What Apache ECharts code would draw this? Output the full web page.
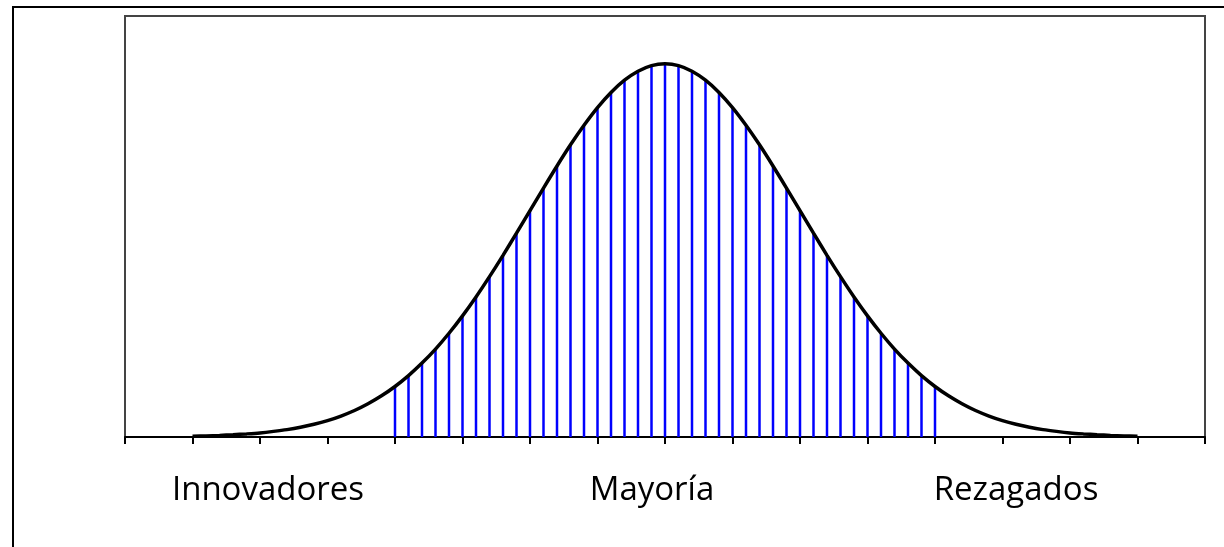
<!DOCTYPE html>
<html>
<head>
<meta charset="utf-8">
<script src="https://cdn.jsdelivr.net/npm/echarts@6/dist/echarts.min.js"></script>
<style>
    html, body { margin: 0; padding: 0; background: #fff; }
    #chart { width: 1224px; height: 547px; }
</style>
</head>
<body>
<div id="chart"></div>
<script>
// curva normal (x en desviaciones, altura de la densidad)
var curveX = [-3.5, -3.4, -3.3, -3.2, -3.1, -3.0, -2.9, -2.8, -2.7, -2.6, -2.5, -2.4, -2.3, -2.2, -2.1,
    -2.0, -1.9, -1.8, -1.7, -1.6, -1.5, -1.4, -1.3, -1.2, -1.1, -1.0, -0.9, -0.8, -0.7, -0.6, -0.5,
    -0.4, -0.3, -0.2, -0.1, 0.0, 0.1, 0.2, 0.3, 0.4, 0.5, 0.6, 0.7, 0.8, 0.9, 1.0, 1.1, 1.2, 1.3,
    1.4, 1.5, 1.6, 1.7, 1.8, 1.9, 2.0, 2.1, 2.2, 2.3, 2.4, 2.5, 2.6, 2.7, 2.8, 2.9, 3.0, 3.1, 3.2,
    3.3, 3.4, 3.5];
var curveY = [0.0009, 0.0012, 0.0017, 0.0024, 0.0033, 0.0044, 0.0060, 0.0079, 0.0104, 0.0136, 0.0175,
    0.0224, 0.0283, 0.0355, 0.0440, 0.0540, 0.0656, 0.0790, 0.0940, 0.1109, 0.1295, 0.1497, 0.1714,
    0.1942, 0.2179, 0.2420, 0.2661, 0.2897, 0.3123, 0.3332, 0.3521, 0.3683, 0.3814, 0.3910, 0.3970,
    0.3989, 0.3970, 0.3910, 0.3814, 0.3683, 0.3521, 0.3332, 0.3123, 0.2897, 0.2661, 0.2420, 0.2179,
    0.1942, 0.1714, 0.1497, 0.1295, 0.1109, 0.0940, 0.0790, 0.0656, 0.0540, 0.0440, 0.0355, 0.0283,
    0.0224, 0.0175, 0.0136, 0.0104, 0.0079, 0.0060, 0.0044, 0.0033, 0.0024, 0.0017, 0.0012, 0.0009];
// zona rayada en azul
var stripeFrom = -2.0;
var stripeTo = 2.0;
// etiquetas de abajo
var groupNames = ["Innovadores", "Mayoría", "Rezagados"];

var curveData = [];
var stripeData = [];
for (var i = 0; i < curveX.length; i++) {
    curveData.push([curveX[i], curveY[i]]);
    if (curveX[i] >= stripeFrom - 1e-9 && curveX[i] <= stripeTo + 1e-9) {
        stripeData.push([curveX[i], curveY[i]]);
    }
}

// centro de cada etiqueta en pixeles
var labelCenter = [268, 652, 1016];
var labels = [];
for (var k = 0; k < groupNames.length; k++) {
    labels.push({
        type: 'text',
        x: labelCenter[k],
        y: 491,
        style: {
            text: groupNames[k],
            align: 'center',
            verticalAlign: 'middle',
            fill: '#000',
            font: '33px "Open Sans"'
        }
    });
}

var chart = echarts.init(document.getElementById('chart'), null, { renderer: 'canvas' });
var option = {
    animation: false,
    grid: {
        left: 125,
        right: 19,
        top: 16,
        bottom: 110,
        show: true,
        borderColor: '#444',
        borderWidth: 2,
        backgroundColor: 'transparent'
    },
    xAxis: {
        type: 'value',
        min: -4,
        max: 4,
        interval: 0.5,
        axisLine: { show: true, lineStyle: { color: '#000', width: 2 } },
        axisTick: { show: true, length: 7, lineStyle: { color: '#000', width: 2 } },
        axisLabel: { show: false },
        splitLine: { show: false }
    },
    yAxis: {
        type: 'value',
        min: 0,
        max: 0.45,
        axisLine: { show: false },
        axisTick: { show: false },
        axisLabel: { show: false },
        splitLine: { show: false }
    },
    series: [
        {
            type: 'bar',
            data: stripeData,
            barWidth: 2.5,
            itemStyle: { color: '#0000ff' },
            z: 2
        },
        {
            type: 'line',
            data: curveData,
            smooth: 0.3,
            showSymbol: false,
            lineStyle: { color: '#000', width: 3.5 },
            z: 3
        }
    ],
    graphic: [
        {
            type: 'rect',
            shape: { x: 13, y: 7, width: 1400, height: 700 },
            style: { fill: 'none', stroke: '#000', lineWidth: 2 }
        }
    ].concat(labels)
};
chart.setOption(option);
</script>
</body>
</html>
